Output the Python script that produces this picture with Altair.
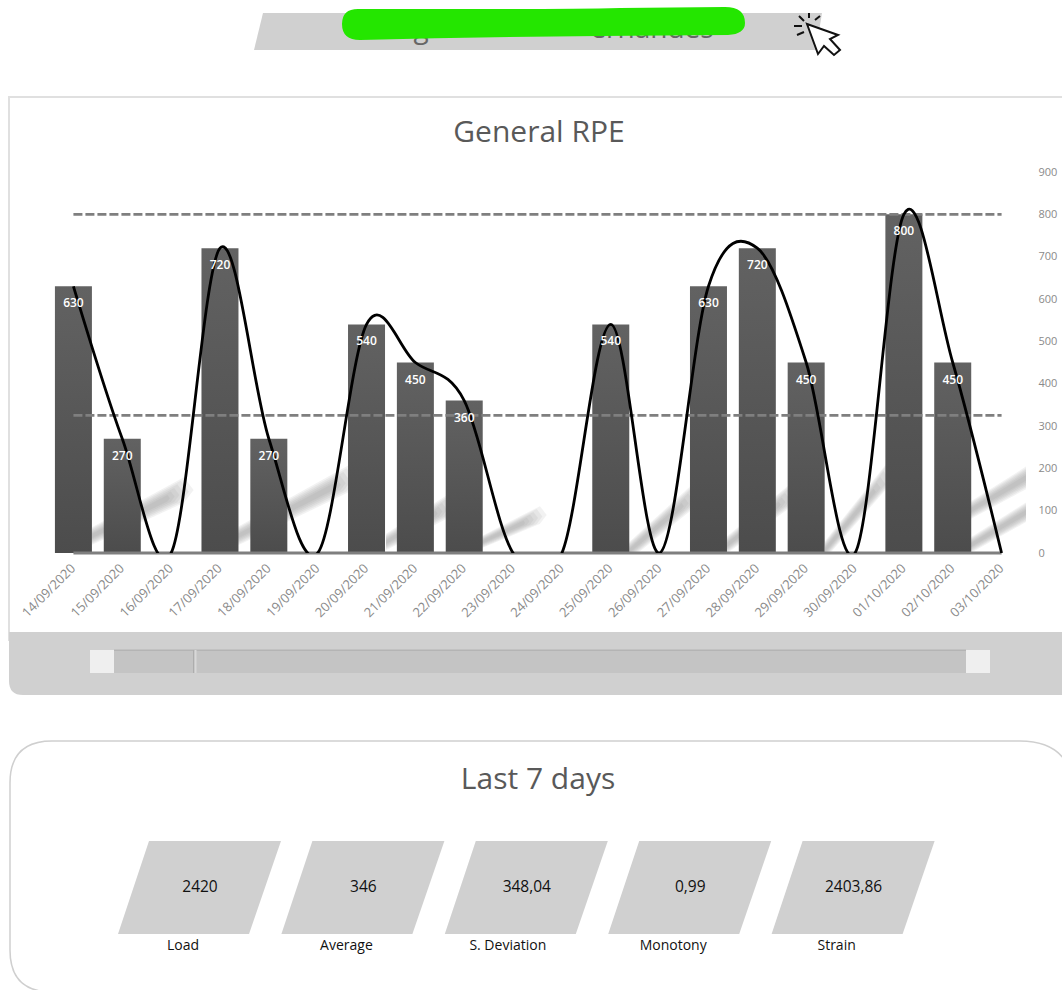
import altair as alt
import pandas as pd

# Daily session load
dates = ["14/09/2020", "15/09/2020", "16/09/2020", "17/09/2020", "18/09/2020",
         "19/09/2020", "20/09/2020", "21/09/2020", "22/09/2020", "23/09/2020",
         "24/09/2020", "25/09/2020", "26/09/2020", "27/09/2020", "28/09/2020",
         "29/09/2020", "30/09/2020", "01/10/2020", "02/10/2020", "03/10/2020"]
load = [630, 270, 0, 720, 270, 0, 540, 450, 360, 0,
        0, 540, 0, 630, 720, 450, 0, 800, 450, 0]
upper_limit = [800] * len(dates)
mean_load = [325] * len(dates)
y_ticks = [0, 100, 200, 300, 400, 500, 600, 700, 800, 900]

# Weekly summary tiles
kpi_names = ["Load", "Average", "S. Deviation", "Monotony", "Strain"]
kpi_values = ["2420", "346", "348,04", "0,99", "2403,86"]

LEFT, TOP, PLOT_W, PLOT_H = 49, 172, 977, 381
FONT = "Open Sans"

df = pd.DataFrame({"date": dates, "load": load, "upper": upper_limit,
                   "mean": mean_load, "zero": [0] * len(dates)})
one_row = alt.Data(values=[{"k": 1}])


def shape(path, **style):
    """Free-form page furniture; a symbol of size 4 draws its path at 1:1."""
    style.setdefault("fill", "transparent")
    style.setdefault("strokeWidth", 0)
    return alt.Chart(one_row).mark_point(
        shape=path, size=4, filled=True, opacity=style.pop("opacity", 1), **style
    ).encode(x=alt.value(-LEFT), y=alt.value(-TOP))


def rect(x0, y0, x1, y1):
    return f"M{x0} {y0}L{x1} {y0}L{x1} {y1}L{x0} {y1}Z"


def label(text, x, y, size, color, weight="normal"):
    return alt.Chart(one_row).mark_text(
        text=text, font=FONT, fontSize=size, color=color, fontWeight=weight,
        align="center", baseline="middle"
    ).encode(x=alt.value(x - LEFT), y=alt.value(y - TOP))


def streak(x0, y0, x1, y1, half):
    """Soft diagonal shadow: nested translucent bands, the inner ones shorter."""
    out = []
    slope = (y1 - y0) / (x1 - x0)
    for f in (1.0, 0.85, 0.7, 0.55, 0.4, 0.25):
        h = half * f
        xe = x1 - (1 - f) * 22
        ye = y0 + slope * (xe - x0)
        p = (f"M{x0} {y0 - h * 0.55}L{xe} {ye - h * 0.8}L{xe + h * 0.6} {ye}"
             f"L{xe} {ye + h * 0.8}L{x0} {y0 + h * 0.55}Z")
        out.append(shape(p, fill="#8c8c8c", opacity=0.11, clip=True))
    return out


furniture = [
    # header banner with the name peeking out below the scribble
    shape("M263 13L822 13L816 50L254 50Z", fill="#d0d0d0"),
    label("ernandes", 652, 30, 28, "#666666"),
    label("g", 421, 30, 28, "#666666"),
    shape("M358 9L500 9Q580 9 620 8L725 7Q745 7 745 23Q745 34 728 35L600 36"
          "Q480 37 360 40Q342 40 342 24Q342 9 358 9Z", fill="#24e600"),
    # pointer icon
    shape("M807 24L838 35L830 39L840 50L834 55L824 46L818 54Z",
          fill="#ffffff", stroke="#111111", strokeWidth=2),
    shape("M809 13L809 18M820 16L815 20M799 16L804 21M794 26L802 26M797 35L804 32",
          fill="transparent", stroke="#111111", strokeWidth=2),
    # chart card
    shape("M1070 97L9 97L9 640L1070 640Z", fill="#ffffff",
          stroke="#e0e0e0", strokeWidth=2),
    shape("M9 632L1070 632L1070 695L23 695Q9 695 9 681Z", fill="#d0d0d0"),
    shape(rect(114, 650, 966, 673), fill="#c4c4c4"),
    shape(rect(114, 649.5, 966, 651), fill="#b4b4b4"),
    shape(rect(193, 650, 194.5, 673), fill="#adadad"),
    shape(rect(194.5, 650, 196.5, 673), fill="#d8d8d8"),
    shape(rect(90, 650, 114, 673), fill="#efefef"),
    shape(rect(966, 650, 990, 673), fill="#efefef"),
    label("General RPE", 539, 133, 30, "#595959"),
    # weekly summary card
    shape("M1075 800Q1075 741 1020 741L52 741Q10 741 10 783L10 950Q10 992 52 992"
          "L1075 992Z", fill="#ffffff", stroke="#cfcfcf", strokeWidth=1.5),
    label("Last 7 days", 538, 780, 30, "#595959"),
]

# Summary tiles
for i, (name, value) in enumerate(zip(kpi_names, kpi_values)):
    dx = i * 163.4
    furniture.append(shape(
        f"M{149 + dx} 841L{281 + dx} 841L{249 + dx} 934L{118 + dx} 934Z",
        fill="#d0d0d0"))
    furniture.append(label(value, 200 + dx, 887, 15.5, "#111111", 500))
    furniture.append(label(name, 183 + dx - (2 if i == 2 else 0), 946, 14, "#111111", 500))

shadows = []
for seg in [(92, 536, 184, 490, 16), (238, 536, 350, 478, 17), (386, 542, 452, 504, 15),
            (482, 542, 540, 515, 11), (628, 552, 698, 492, 16), (723, 548, 795, 492, 15),
            (825, 550, 890, 472, 16), (971, 510, 1060, 458, 16), (971, 545, 1060, 492, 14)]:
    shadows.extend(streak(*seg))

x = alt.X("date:N", sort=dates,
          scale=alt.Scale(type="band", paddingInner=0, paddingOuter=0),
          axis=alt.Axis(title=None, domain=False, ticks=False, grid=False, labelAngle=-45,
                        labelAlign="right", labelBaseline="middle", labelPadding=13,
                        labelFont=FONT, labelFontSize=13, labelColor="#8a8a8a",
                        labelOverlap=False, labelBound=False, labelFlush=False, zindex=1))
y_scale = alt.Scale(domain=[0, 900], nice=False)
y_axis = alt.Axis(title=None, orient="right", values=y_ticks, domain=False, ticks=False,
                  grid=False, labelPadding=12, labelFont=FONT, labelFontSize=11,
                  labelColor="#8a8a8a", labelFlush=False, labelBound=False, zindex=1)
y = alt.Y("load:Q", scale=y_scale, axis=y_axis)

base = alt.Chart(df)
bars = base.mark_bar(
    width=37,
    color=alt.Gradient(gradient="linear", x1=0, x2=0, y1=0, y2=1,
                       stops=[alt.GradientStop(color="#626262", offset=0),
                              alt.GradientStop(color="#4c4c4c", offset=1)])
).encode(x=x, y=y)


def flat_line(field, **style):
    return base.mark_line(color="#7f7f7f", **style).encode(
        x=x, y=alt.Y(f"{field}:Q", scale=y_scale, axis=y_axis))


upper_rule = flat_line("upper", strokeWidth=2.8, strokeDash=[9, 3])
mean_rule = flat_line("mean", strokeWidth=2.8, strokeDash=[9, 3])
baseline = flat_line("zero", strokeWidth=2.8)

curve = base.mark_line(color="#000000", strokeWidth=2.8, interpolate="cardinal",
                       clip=True).encode(x=x, y=y)
values = base.mark_text(color="#ffffff", font=FONT, fontSize=12, fontWeight=600,
                        baseline="middle", dy=17).encode(x=x, y=y, text="load:Q")

chart = alt.layer(*furniture, *shadows, bars, upper_rule, mean_rule, baseline, curve, values).properties(
    width=PLOT_W, height=PLOT_H,
    padding={"left": LEFT, "top": TOP, "right": 1062 - LEFT - PLOT_W, "bottom": 990 - TOP - PLOT_H},
    autosize=alt.AutoSizeParams(type="none"),
    background="#ffffff",
).configure_view(stroke=None)

chart.save("out.html", embed_options={"renderer": "svg", "actions": False})
